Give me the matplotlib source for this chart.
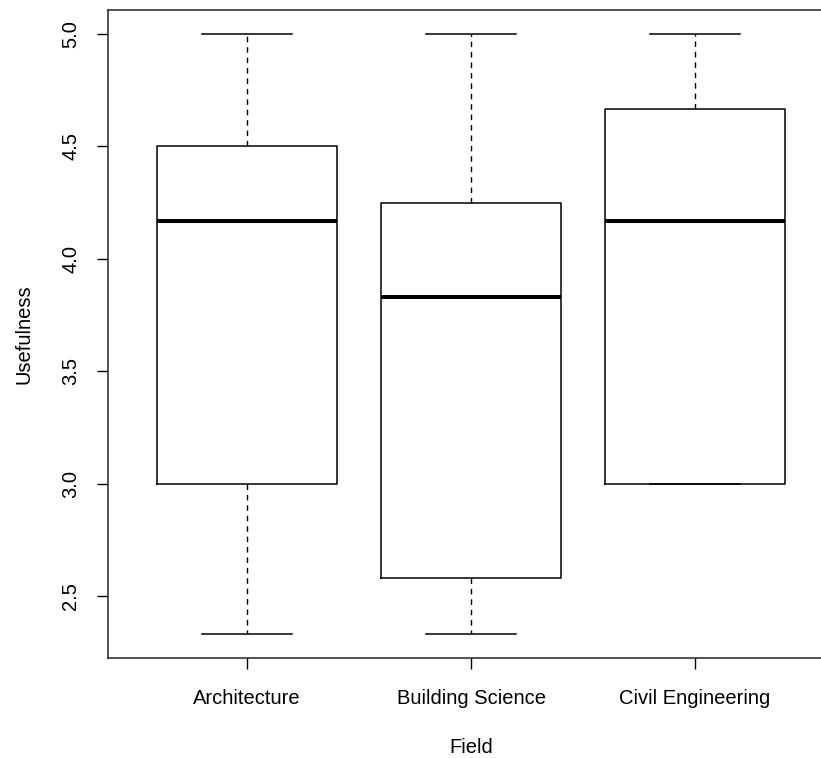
import matplotlib
matplotlib.use("Agg")
import matplotlib.pyplot as plt

# Five-number summaries of usefulness ratings per field
fields = ["Architecture", "Building Science", "Civil Engineering"]
whisker_low = [2.3333, 2.3333, 3.0]
q1 = [3.0, 2.5833, 3.0]
medians = [4.1667, 3.8333, 4.1667]
q3 = [4.5, 4.25, 4.6667]
whisker_high = [5.0, 5.0, 5.0]
y_ticks = [2.5, 3.0, 3.5, 4.0, 4.5, 5.0]

plt.rcParams["font.family"] = ["Liberation Sans", "DejaVu Sans"]

fig = plt.figure(figsize=(8.21, 7.58), dpi=100)
ax = fig.add_axes([108 / 821, 100 / 758, (834 - 108) / 821, 648 / 758])

stats = []
for name, lo, a, m, b, hi in zip(fields, whisker_low, q1, medians, q3, whisker_high):
    stats.append(dict(label=name, whislo=lo, q1=a, med=m, q3=b, whishi=hi, fliers=[]))

ax.bxp(
    stats,
    positions=[1, 2, 3],
    widths=0.8,
    capwidths=0.4,
    showfliers=False,
    boxprops=dict(color="black", linewidth=1.1),
    medianprops=dict(color="black", linewidth=2.9, solid_capstyle="butt"),
    whiskerprops=dict(color="black", linewidth=1.0, linestyle=(0, (4, 3.5))),
    capprops=dict(color="black", linewidth=1.1),
)

# Axis ranges extended 4% beyond the data, boxplot-style
lo_all, hi_all = min(whisker_low), max(whisker_high)
pad = 0.04 * (hi_all - lo_all)
ax.set_ylim(lo_all - pad, hi_all + pad)
xpad = 0.04 * 3
ax.set_xlim(0.5 - xpad, 3.5 + xpad)

ax.set_yticks(y_ticks)
ax.set_yticklabels([f"{v:.1f}" for v in y_ticks], rotation=90, va="center", fontsize=14.5)
ax.set_xticks([1, 2, 3])
ax.set_xticklabels(fields, fontsize=14.5)
ax.tick_params(axis="both", length=8, width=1.0, color="black", pad=12)
ax.tick_params(axis="x", pad=14)

for s in ax.spines.values():
    s.set_linewidth(1.1)
    s.set_color("#222222")

ax.set_xlabel("Field", fontsize=14.5, labelpad=22)
ax.set_ylabel("Usefulness", fontsize=14.5, labelpad=20)

fig.savefig("out.png", dpi=100)
